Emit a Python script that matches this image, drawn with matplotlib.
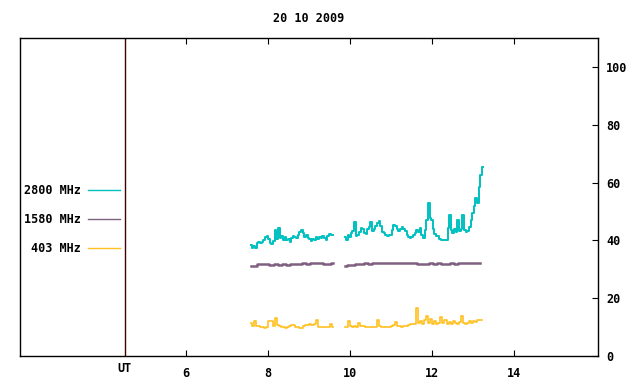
import numpy as np
import matplotlib
matplotlib.use("Agg")
import matplotlib.pyplot as plt

title = "20 10 2009"
series_names = ["2800 MHz", "1580 MHz", "403 MHz"]
series_colors = ["#00c0c0", "#7f6080", "#ffc020"]
x_ticks = [6, 8, 10, 12, 14]
y_ticks = [0, 20, 40, 60, 80, 100]
ut_hour = 4.5

# 2800 MHz, two segments (start hour, step 0.04 h)
f2800_seg1_start, f2800_seg2_start, f2800_step = 7.585, 9.88, 0.04
f2800_seg1 = [38.5, 37.5, 38.2, 37.2, 39.0, 39.6, 39.0, 39.5, 40.2, 41.2,
              41.5, 40.5, 39.2, 38.8, 39.8, 43.6, 40.6, 44.2, 40.8, 41.5,
              40.2, 41.2, 40.0, 40.6, 39.6, 40.8, 41.6, 41.3, 40.9, 42.0,
              42.8, 43.6, 42.5, 41.3, 41.8, 40.8, 40.3, 39.8, 40.5, 40.2,
              41.1, 40.6, 41.3, 40.8, 41.5, 40.9, 40.0, 41.4, 42.3, 41.8, 42.0]
f2800_seg2 = [41.0, 40.2, 41.8, 41.2, 42.5, 43.4, 46.5, 41.4, 42.0, 43.0,
              44.3, 44.0, 42.6, 42.3, 43.8, 44.7, 46.5, 43.2, 43.8, 44.8,
              46.0, 46.8, 45.0, 43.0, 42.5, 41.9, 41.6, 42.0, 41.8, 43.5,
              45.3, 44.8, 44.0, 43.4, 43.8, 44.5, 44.0, 43.2, 41.8, 41.0,
              40.8, 41.3, 42.0, 42.6, 43.6, 43.0, 44.3, 42.0, 40.8, 43.5,
              47.0, 52.9, 47.8, 47.0, 44.0, 42.2, 41.5, 41.4, 40.3, 40.0,
              40.0, 40.1, 40.0, 44.3, 48.8, 43.5, 42.6, 43.8, 42.8, 47.0,
              43.2, 44.0, 48.8, 43.5, 42.8, 43.2, 44.7, 47.0, 49.5, 52.0,
              54.5, 53.0, 58.6, 62.5, 65.5]

# 1580 MHz (step 0.1 h)
f1580_step = 0.1
f1580_seg1 = [31.0, 31.3, 31.8, 31.9, 31.7, 31.6, 31.7, 31.6, 31.7, 31.6,
              31.8, 31.9, 31.8, 32.0, 31.9, 32.0, 32.1, 32.0, 31.9, 31.8, 32.0]
f1580_seg2 = [31.3, 31.4, 31.6, 31.8, 31.9, 32.2, 31.9, 32.2, 32.0, 32.3,
              32.1, 32.0, 32.2, 32.1, 32.0, 32.1, 32.3, 32.1, 31.8, 31.8,
              31.9, 32.0, 31.8, 32.0, 31.9, 31.8, 32.0, 31.9, 32.0, 32.0,
              32.0, 32.0, 32.0, 32.0]

# 403 MHz (step 0.05 h)
f403_step = 0.05
f403_seg1 = [11.5, 10.3, 12.0, 10.4, 10.5, 10.2, 9.9, 9.8, 10.0, 12.0,
             12.1, 10.3, 13.1, 10.6, 10.4, 10.2, 9.9, 9.8, 10.2, 10.3,
             10.8, 10.7, 10.2, 10.0, 9.8, 9.8, 10.3, 10.8, 10.8, 10.9,
             10.8, 11.0, 12.4, 10.2, 10.1, 10.1, 10.1, 10.1, 10.1, 10.9, 10.1]
f403_seg2 = [10.2, 10.2, 12.1, 10.3, 10.2, 10.3, 10.2, 11.4, 10.5, 10.5,
             10.2, 10.0, 10.0, 10.1, 10.1, 10.2, 12.4, 10.4, 10.1, 10.1,
             10.1, 10.1, 10.2, 10.3, 10.6, 11.6, 10.3, 10.3, 10.2, 10.3,
             10.4, 10.8, 11.0, 10.9, 11.2, 16.5, 11.3, 12.0, 11.0, 12.5,
             14.0, 11.5, 12.8, 11.2, 12.2, 11.0, 11.5, 13.5, 11.4, 12.3,
             11.2, 11.8, 11.0, 12.0, 11.3, 11.0, 11.6, 13.8, 11.4, 11.0,
             11.3, 12.0, 11.5, 12.2, 11.8, 12.3, 12.6, 12.4]

mono = "DejaVu Sans Mono"
fs = 8.5

fig = plt.figure(figsize=(6.4, 3.84), dpi=100)
ax = fig.add_axes([20/640, 28/384, 578/640, 318/384])
ax.set_xlim(1.95, 16.05)
ax.set_ylim(0, 110)


def seg(start, step, vals):
    t = start + step * np.arange(len(vals))
    return t, np.array(vals)


groups = [
    [(f2800_seg1_start, f2800_step, f2800_seg1), (f2800_seg2_start, f2800_step, f2800_seg2)],
    [(f2800_seg1_start, f1580_step, f1580_seg1), (f2800_seg2_start, f1580_step, f1580_seg2)],
    [(f2800_seg1_start, f403_step, f403_seg1), (f2800_seg2_start, f403_step, f403_seg2)],
]
widths = [1.4, 1.8, 1.2]
for g, col, lw in zip(groups, series_colors, widths):
    for s in g:
        t, v = seg(*s)
        ax.plot(t, v, color=col, lw=lw, drawstyle="steps-mid")

# UT line
ax.axvline(ut_hour, color="#400000", lw=1)

# legend-like labels on left
for i, (name, col) in enumerate(zip(series_names, series_colors)):
    yf = 0.522 - i * 0.0915
    ax.text(0.1055, yf, name, transform=ax.transAxes, ha="right", va="center",
            family=mono, fontsize=fs, fontweight="bold")
    ax.plot([0.1176, 0.173], [yf, yf], transform=ax.transAxes, color=col, lw=1)

ax.set_xticks(x_ticks)
ax.set_xticklabels([str(v) for v in x_ticks], family=mono, fontsize=fs, fontweight="bold")
ax.tick_params(axis="x", direction="in", length=4, top=True, bottom=True, pad=8)
ax.yaxis.tick_right()
ax.set_yticks(y_ticks)
ax.set_yticklabels([str(v) for v in y_ticks], family=mono, fontsize=fs, fontweight="bold")
ax.tick_params(axis="y", direction="in", length=4, right=True, left=False, pad=6)
ax.text(ut_hour, -13/318, "UT", transform=ax.get_xaxis_transform(),
        ha="center", va="center", family=mono, fontsize=fs, fontweight="bold")

for sp in ax.spines.values():
    sp.set_linewidth(1)
    sp.set_color("black")

fig.text(309/640, 1 - 18/384, title, ha="center", va="center", family=mono,
         fontsize=fs, fontweight="bold")

fig.savefig("out.png", dpi=100)
